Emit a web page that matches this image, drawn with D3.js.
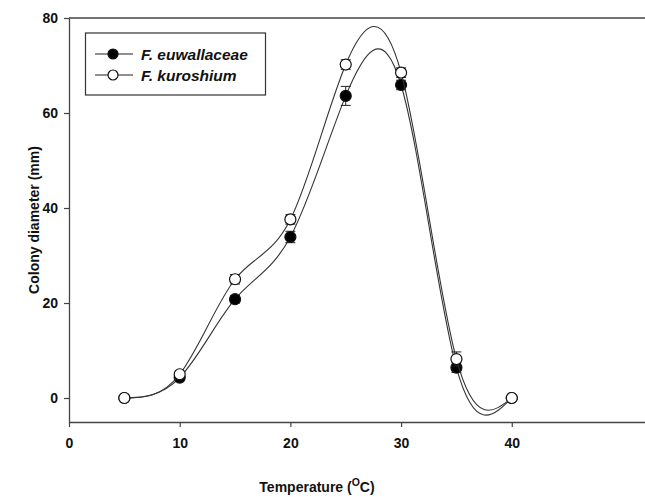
<!DOCTYPE html>
<html>
<head>
<meta charset="utf-8">
<script src="https://cdn.jsdelivr.net/npm/d3@7"></script>
<style>
  body { margin: 0; background: #fff; }
  svg { font-family: Arial, "Liberation Sans", sans-serif; }
</style>
</head>
<body>
<div id="chart"></div>
<script>
// Data
const temps = [5, 10, 15, 20, 25, 30, 35, 40];
const euwallaceae = [0, 4.3, 20.8, 33.9, 63.6, 65.9, 6.4, 0];
const euwallaceaeErr = [0, 0.6, 0.8, 1.2, 2.0, 1.0, 1.0, 0];
const kuroshium = [0, 5.0, 25.0, 37.6, 70.2, 68.5, 8.2, 0];
const kuroshiumErr = [0, 0.6, 1.0, 1.0, 1.0, 1.0, 1.5, 0];
const xTicks = [0, 10, 20, 30, 40];
const yTicks = [0, 20, 40, 60, 80];

const W = 645, H = 497;
const axisColor = '#444';

const svg = d3.select('#chart').append('svg')
    .attr('width', W)
    .attr('height', H);

const x = d3.scaleLinear().domain([0, 52]).range([69, 644.6]);
const y = d3.scaleLinear().domain([-5.05, 80]).range([422, 18]);

// Frame: top line
svg.append('line')
    .attr('x1', x(0)).attr('x2', W)
    .attr('y1', y(80)).attr('y2', y(80))
    .style('stroke', axisColor).style('stroke-width', 1.3);

// Axes
const xAxis = svg.append('g')
    .attr('transform', `translate(0,${y(-5.05)})`)
    .call(d3.axisBottom(x).tickValues(xTicks).tickSize(5).tickSizeOuter(0));
const yAxis = svg.append('g')
    .attr('transform', `translate(${x(0)},0)`)
    .call(d3.axisLeft(y).tickValues(yTicks).tickSize(5).tickSizeOuter(0));

[xAxis, yAxis].forEach(g => {
    g.select('.domain').style('stroke', axisColor).style('stroke-width', 1.3);
    g.selectAll('.tick line').style('stroke', axisColor).style('stroke-width', 1.2);
    g.selectAll('.tick text')
        .style('font-size', '14px')
        .style('font-weight', 'bold')
        .style('fill', '#111');
});
xAxis.selectAll('.tick text').attr('dy', '1.3em');
yAxis.selectAll('.tick text').attr('x', -11);

// Axis titles
const xt = svg.append('text')
    .attr('x', 317)
    .attr('y', 492)
    .attr('text-anchor', 'middle')
    .style('font-size', '14px')
    .style('font-weight', 'bold')
    .style('fill', '#111');
xt.append('tspan').text('Temperature (');
xt.append('tspan').attr('dy', -6).style('font-size', '10.5px').text('O');
xt.append('tspan').attr('dy', 6).text('C)');

svg.append('text')
    .attr('transform', 'rotate(-90)')
    .attr('x', -220)
    .attr('y', 39)
    .attr('text-anchor', 'middle')
    .style('font-size', '14px')
    .style('font-weight', 'bold')
    .style('fill', '#111')
    .text('Colony diameter (mm)');

const line = d3.line()
    .curve(d3.curveNatural)
    .x(d => x(d[0]))
    .y(d => y(d[1]));

function drawSeries(vals, errs, fill) {
    const pts = temps.map((t, i) => [t, vals[i]]);
    svg.append('path')
        .datum(pts)
        .attr('fill', 'none')
        .attr('stroke', '#333')
        .attr('stroke-width', 1.1)
        .attr('d', line);

    const g = svg.append('g');
    temps.forEach((t, i) => {
        if (errs[i] > 0) {
            const cx = x(t);
            g.append('line')
                .attr('x1', cx).attr('x2', cx)
                .attr('y1', y(vals[i] - errs[i])).attr('y2', y(vals[i] + errs[i]))
                .style('stroke', '#222').style('stroke-width', 1);
            [vals[i] - errs[i], vals[i] + errs[i]].forEach(v => {
                g.append('line')
                    .attr('x1', cx - 5).attr('x2', cx + 5)
                    .attr('y1', y(v)).attr('y2', y(v))
                    .style('stroke', '#222').style('stroke-width', 1);
            });
        }
        g.append('circle')
            .attr('cx', x(t))
            .attr('cy', y(vals[i]))
            .attr('r', 5.5)
            .attr('fill', fill)
            .attr('stroke', '#111')
            .attr('stroke-width', 1.2);
    });
}

drawSeries(euwallaceae, euwallaceaeErr, '#000');
drawSeries(kuroshium, kuroshiumErr, '#fff');

// Legend
const legend = svg.append('g');
legend.append('rect')
    .attr('x', 85.5).attr('y', 33)
    .attr('width', 180).attr('height', 62)
    .attr('fill', '#fff')
    .attr('stroke', '#333')
    .attr('stroke-width', 1.2);

const entries = [
    {name: 'F. euwallaceae', fill: '#000', yy: 54},
    {name: 'F. kuroshium', fill: '#fff', yy: 75}
];
entries.forEach(e => {
    legend.append('line')
        .attr('x1', 95).attr('x2', 133)
        .attr('y1', e.yy).attr('y2', e.yy)
        .style('stroke', '#222').style('stroke-width', 1.2);
    legend.append('circle')
        .attr('cx', 113).attr('cy', e.yy).attr('r', 5)
        .attr('fill', e.fill).attr('stroke', '#111').attr('stroke-width', 1.2);
    legend.append('text')
        .attr('x', 141).attr('y', e.yy + 5.5)
        .style('font-size', '15.5px')
        .style('font-weight', 'bold')
        .style('font-style', 'italic')
        .style('fill', '#111')
        .text(e.name);
});
</script>
</body>
</html>
